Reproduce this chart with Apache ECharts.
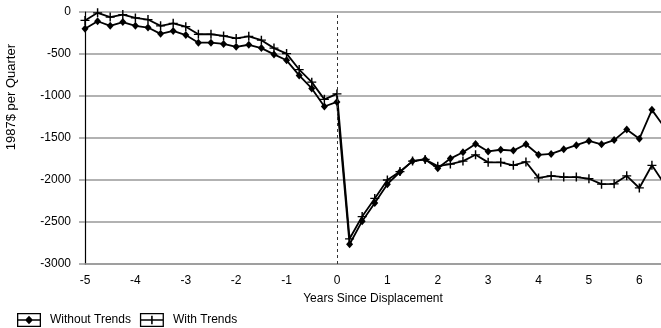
<!DOCTYPE html>
<html>
<head>
<meta charset="utf-8">
<script src="https://cdn.jsdelivr.net/npm/echarts@6/dist/echarts.min.js"></script>
<style>
html,body{margin:0;padding:0;background:#fff;}
#chart{width:661px;height:328px;}
</style>
</head>
<body>
<div id="chart"></div>
<script>
// Years since displacement (quarterly)
var years = [-5,-4.75,-4.5,-4.25,-4,-3.75,-3.5,-3.25,-3,-2.75,-2.5,-2.25,-2,-1.75,-1.5,-1.25,-1,-0.75,-0.5,-0.25,
  0,0.25,0.5,0.75,1,1.25,1.5,1.75,2,2.25,2.5,2.75,3,3.25,3.5,3.75,4,4.25,4.5,4.75,5,5.25,5.5,5.75,6,6.25,6.5];
var withoutTrends = [-200,-110,-165,-120,-165,-185,-260,-225,-275,-365,-365,-380,-415,-390,-430,-505,-575,-755,-910,-1125,
  -1070,-2765,-2490,-2275,-2050,-1905,-1775,-1755,-1860,-1745,-1670,-1570,-1660,-1640,-1650,-1575,-1700,-1690,-1635,-1585,
  -1535,-1575,-1525,-1400,-1510,-1165,-1375];
var withTrends = [-100,-10,-60,-30,-70,-90,-165,-135,-175,-265,-265,-285,-315,-290,-335,-430,-495,-685,-835,-1040,
  -975,-2700,-2435,-2220,-2000,-1900,-1775,-1755,-1835,-1810,-1775,-1700,-1790,-1790,-1825,-1785,-1975,-1950,-1965,-1965,
  -1985,-2050,-2045,-1950,-2095,-1825,-2050];
var seriesNames = ['Without Trends', 'With Trends'];
var yTitle = '1987$ per Quarter';
var xTitle = 'Years Since Displacement';

function pairs(vals){ return years.map(function(x,i){ return [x, vals[i]]; }); }

var FONT = 'Liberation Sans';
var plusSymbol = 'path://M4.2,0 L5.8,0 L5.8,4.3 L10,4.3 L10,5.7 L5.8,5.7 L5.8,10 L4.2,10 L4.2,5.7 L0,5.7 L0,4.3 L4.2,4.3 Z';
var iconDiamond = 'path://M0,0 L24,0 L24,14 L0,14 Z M1.3,1.3 L1.3,12.7 L22.7,12.7 L22.7,1.3 Z M1,6.3 L23,6.3 L23,7.7 L1,7.7 Z M12,2.8 L16,7 L12,11.2 L8,7 Z';
var iconPlus = 'path://M0,0 L24,0 L24,14 L0,14 Z M1.3,1.3 L1.3,12.7 L22.7,12.7 L22.7,1.3 Z M1,6.3 L23,6.3 L23,7.7 L1,7.7 Z M11.2,2.8 L12.8,2.8 L12.8,11.2 L11.2,11.2 Z';

var chart = echarts.init(document.getElementById('chart'), null, {renderer:'canvas'});
chart.setOption({
  animation: false,
  backgroundColor: '#fff',
  textStyle: {fontFamily: FONT},
  grid: {left: 85, right: 0, top: 12, bottom: 64, containLabel: false},
  legend: {
    left: 17, top: 313, padding: 0, itemWidth: 24, itemHeight: 14, itemGap: 9,
    textStyle: {fontFamily: FONT, fontSize: 12, color: '#000', padding: [0,0,0,4]},
    data: [
      {name: seriesNames[0], icon: iconDiamond},
      {name: seriesNames[1], icon: iconPlus}
    ]
  },
  graphic: [{
    type: 'text', left: 5, top: 44, rotation: Math.PI/2,
    style: {text: yTitle, fontFamily: FONT, fontSize: 13, fill: '#000'}
  }],
  xAxis: {
    type: 'value', min: -5, max: 6.43, interval: 1,
    name: xTitle, nameLocation: 'middle', nameGap: 29,
    nameTextStyle: {fontFamily: FONT, fontSize: 12, color: '#000'},
    axisLine: {show: true, onZero: false, lineStyle: {color: '#999', width: 1.5}},
    axisTick: {show: false},
    splitLine: {show: false},
    axisLabel: {fontFamily: FONT, fontSize: 12, color: '#000', margin: 11, showMaxLabel: false}
  },
  yAxis: {
    type: 'value', min: -3000, max: 0, interval: 500,
    axisLine: {show: true, onZero: false, lineStyle: {color: '#000', width: 1.2}},
    axisTick: {show: true, length: 6, lineStyle: {color: '#999', width: 1.5}},
    splitLine: {show: true, lineStyle: {color: '#999', width: 1.5}},
    axisLabel: {fontFamily: FONT, fontSize: 12, color: '#000', margin: 14,
      formatter: function(v){ return String(v); }}
  },
  series: [
    {
      name: seriesNames[0], type: 'line', data: pairs(withoutTrends),
      color: '#000', symbol: 'diamond', symbolSize: [7,8], showAllSymbol: true,
      lineStyle: {color: '#000', width: 1.8}, itemStyle: {color: '#000'},
      markLine: {
        silent: true, symbol: ['none','none'], label: {show: false},
        lineStyle: {color: '#333', type: [3,3], width: 1},
        data: [{xAxis: 0}]
      }
    },
    {
      name: seriesNames[1], type: 'line', data: pairs(withTrends),
      color: '#000', symbol: plusSymbol, symbolSize: 9, showAllSymbol: true,
      lineStyle: {color: '#000', width: 1.8}, itemStyle: {color: '#000'}
    }
  ]
});
</script>
</body>
</html>
